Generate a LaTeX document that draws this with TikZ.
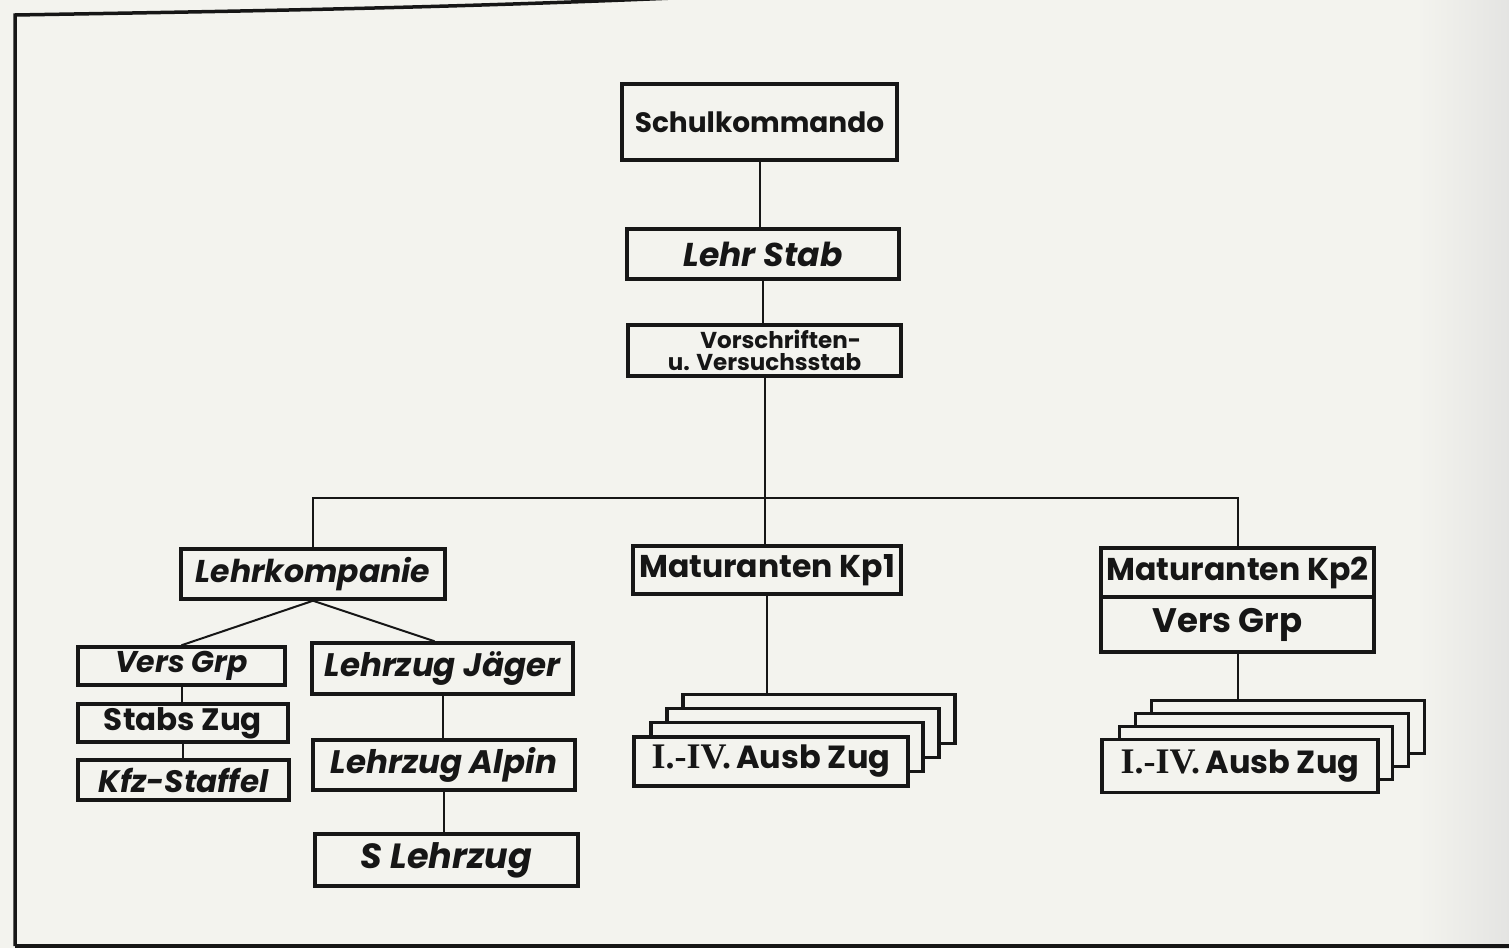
\documentclass[tikz,border=0pt]{standalone}
\usepackage{fontspec}
\setmainfont{Poppins}
\newfontfamily\romfont{Liberation Serif}
\usetikzlibrary{calc}
\definecolor{bg}{RGB}{243,243,238}
\definecolor{ink}{RGB}{22,22,22}
\newcommand\myfs[1]{\fontsize{#1}{#1}\selectfont}
\newcommand\romnum{{\romfont\bfseries\fontsize{36}{36}\selectfont I.-IV.}}
\begin{document}
\begin{tikzpicture}[x=1pt,y=-1pt,
  box/.style={draw=ink, line width=3.5pt, fill=bg, inner sep=0pt, text=ink, font=\bfseries},
  card/.style={draw=ink, line width=3.5pt, fill=bg, inner sep=0pt, minimum width=272pt, minimum height=49pt},
  link/.style={draw=ink, line width=2pt},
  frame/.style={draw=ink, line width=3.5pt}]
% background
\fill[bg] (0,0) rectangle (1509,948);
\shade[left color=bg, right color={rgb,255:red,228;green,228;blue,226}] (1420,0) rectangle (1509,948);
\useasboundingbox (0,0) rectangle (1509,948);
% frame
\draw[frame] (15,946) -- (15,15) .. controls (250,11) and (450,8) .. (720,-4);
\draw[frame] (15,946) -- (1515,946);

% top chain
\node[box, minimum width=275pt, minimum height=76pt, font=\bfseries\myfs{28}] (sk) at (759.5,122) {Schulkommando};
\node[box, minimum width=272pt, minimum height=50pt, font=\bfseries\itshape\myfs{33}] (ls) at (763,254) {Lehr Stab};
\node[box, minimum width=273pt, minimum height=51pt, align=right, font=\bfseries\fontsize{23}{21.5}\selectfont] (vs) at (764.5,350.5) {\hspace*{20pt}Vorschriften-\\u. Versuchsstab};

% second level
\node[box, minimum width=264pt, minimum height=50pt, font=\bfseries\itshape\myfs{31.5}] (lk) at (313,574) {Lehrkompanie};
\node[box, minimum width=268pt, minimum height=48pt, font=\bfseries\myfs{31.5}] (m1) at (767,570) {Maturanten Kp1};
\node[box, minimum width=273pt, minimum height=49pt, font=\bfseries\myfs{31.5}] (m2) at (1237.5,572.5) {Maturanten Kp2};
\node[box, minimum width=273pt, minimum height=55pt, font=\bfseries\myfs{34}] (m2b) at (1237.5,624.5) {Vers Grp\hspace*{20pt}};

% Lehrkompanie children
\node[box, minimum width=207pt, minimum height=38pt, font=\bfseries\itshape\myfs{30}] (vg) at (181.5,666) {Vers Grp};
\node[box, minimum width=210pt, minimum height=38pt, font=\bfseries\myfs{31}] (sz) at (183,723) {Stabs Zug};
\node[box, minimum width=211pt, minimum height=40pt, font=\bfseries\itshape\myfs{31}] (kfz) at (183.5,780) {Kfz-Staffel};
\node[box, minimum width=261pt, minimum height=51pt, font=\bfseries\itshape\myfs{32.5}] (lj) at (442.5,668.5) {Lehrzug Jäger};
\node[box, minimum width=262pt, minimum height=50pt, font=\bfseries\itshape\myfs{32.5}] (la) at (444,765) {Lehrzug Alpin};
\node[box, minimum width=263pt, minimum height=52pt, font=\bfseries\itshape\myfs{35}] (sl) at (446.5,860) {S Lehrzug};

% Kp1 card stack
\node[card] (k1d) at (819,719) {};
\node[card] (k1c) at (803,733) {};
\node[card] (k1b) at (787,747) {};
\node[box, minimum width=274pt, minimum height=49pt, font=\bfseries\myfs{32}] (k1a) at (771,761.5) {\romnum\,Ausb Zug};

% Kp2 card stack
\node[card, minimum width=273pt, minimum height=53pt] (k2d) at (1288,727) {};
\node[card, minimum width=273pt, minimum height=53pt] (k2c) at (1272,740) {};
\node[card, minimum width=273pt, minimum height=53pt] (k2b) at (1256,753) {};
\node[box, minimum width=276pt, minimum height=53pt, font=\bfseries\myfs{32}] (k2a) at (1240,766) {\romnum\,Ausb Zug};

% connectors
\coordinate (bar) at (0,498);
\draw[link] (sk.south) -- (sk.south |- ls.north);
\draw[link] (ls.south) -- (ls.south |- vs.north);
\draw[link] (vs.south) -- (vs.south |- m1.north);
\draw[link] (lk.north) -- (lk.north |- bar) -- (m2.north |- bar) -- (m2.north);
\draw[link] (lk.south) -- (vg.north);
\draw[link] (lk.south) -- ([xshift=-8pt]lj.north);
\draw[link] (vg.south) -- (vg.south |- sz.north);
\draw[link] (sz.south) -- (sz.south |- kfz.north);
\draw[link] (lj.south) -- (lj.south |- la.north);
\draw[link] (la.south) -- (la.south |- sl.north);
\draw[link] (m1.south) -- (m1.south |- k1d.north);
\draw[link] (m2b.south) -- (m2b.south |- k2d.north);
\end{tikzpicture}
\end{document}
